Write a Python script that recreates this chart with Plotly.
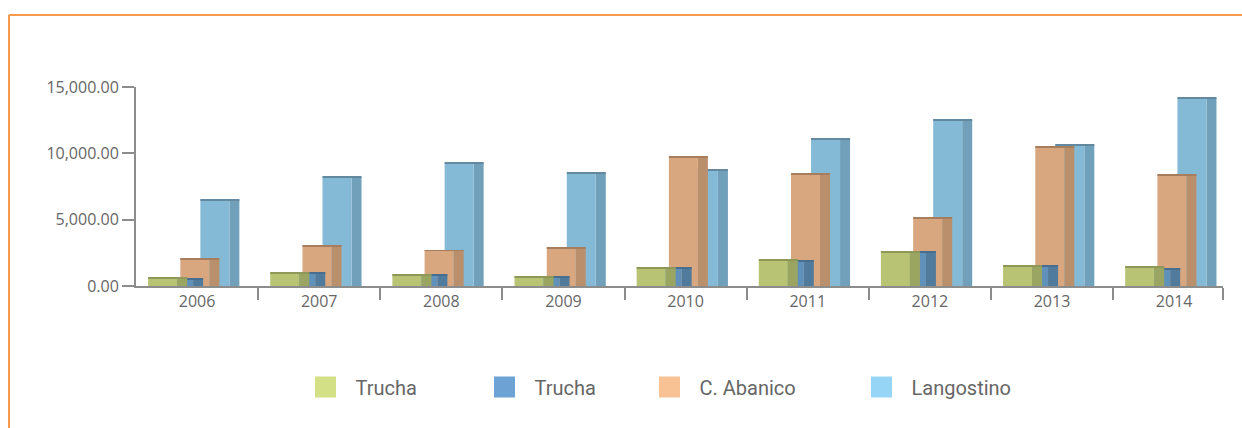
import plotly.graph_objects as go

# Production by year and species
years = ["2006", "2007", "2008", "2009", "2010", "2011", "2012", "2013", "2014"]
trucha_a = [660, 1040, 890, 740, 1420, 2000, 2630, 1570, 1500]
trucha_b = [590, 1020, 890, 740, 1420, 1930, 2630, 1570, 1350]
abanico = [2100, 3060, 2710, 2930, 9730, 8450, 5150, 10490, 8430]
langostino = [6540, 8220, 9280, 8520, 8750, 11090, 12530, 10640, 14190]

series_names = ["Trucha", "Trucha", "C. Abanico", "Langostino"]
series_values = [trucha_a, trucha_b, abanico, langostino]

# (front face, side face, top edge, legend swatch)
palette = [
    ("#B8C473", "#9BA562", "#8E9858", "#D4E085"),
    ("#5F91BB", "#517B9C", "#476E8E", "#6CA3D4"),
    ("#D9A77F", "#BA906C", "#A67E5E", "#F9C295"),
    ("#85BAD6", "#71A0BA", "#62899F", "#97D5F6"),
]

FRONT_W = 0.2375
SIDE_W = 0.082
offsets = [-0.401, -0.270, -0.137, 0.027]
EDGE = 70  # thickness of the top edge, in data units

xs = list(range(len(years)))
fig = go.Figure()

# draw the back series first so the front ones overlap them
for idx in reversed(range(len(series_values))):
    vals = series_values[idx]
    front, side, top, _ = palette[idx]
    off = offsets[idx]
    fig.add_trace(go.Bar(
        x=xs, y=vals, width=SIDE_W, offset=off + FRONT_W,
        marker=dict(color=side, line=dict(width=0)), showlegend=False,
        hoverinfo="skip"))
    fig.add_trace(go.Bar(
        x=xs, y=vals, width=FRONT_W, offset=off,
        marker=dict(color=front, line=dict(width=0)), showlegend=False,
        name=series_names[idx]))
    fig.add_trace(go.Bar(
        x=xs, y=[EDGE] * len(vals), base=[v - EDGE for v in vals],
        width=FRONT_W + SIDE_W, offset=off,
        marker=dict(color=top, line=dict(width=0)), showlegend=False,
        hoverinfo="skip"))

# legend swatches
legend_widths = [114, 100, 147, 100]
for idx, name in enumerate(series_names):
    fig.add_trace(go.Scatter(
        x=[None], y=[None], mode="markers", name=name,
        marker=dict(symbol="square", size=16, color=palette[idx][3],
                    line=dict(color=palette[idx][3], width=5)),
        legendwidth=legend_widths[idx], showlegend=True))

axis_color = "#8C8C8C"
frame_color = "#F79A4E"
tick_font = dict(family="Open Sans", size=16, color="#666666")

# plot area in pixels
L, R, T, B = 136, 19, 87, 142
W, H = 1242, 428
PW, PH = W - L - R, H - T - B

fig.update_layout(
    width=W, height=H,
    barmode="overlay",
    paper_bgcolor="white", plot_bgcolor="white",
    margin=dict(l=L, r=R, t=T, b=B),
    showlegend=True,
    legend=dict(
        orientation="h", xref="container", yref="container",
        x=295.5 / W, xanchor="left", y=1 - 387 / H, yanchor="middle",
        itemwidth=50, font=dict(family="Roboto", size=20, color="#666666"),
        bgcolor="rgba(0,0,0,0)", traceorder="normal",
    ),
    xaxis=dict(
        range=[-0.5, 8.4], tickmode="array", tickvals=xs, ticktext=years,
        ticks="", showgrid=False, zeroline=False,
        showline=True, linecolor=axis_color, linewidth=2,
        tickfont=tick_font,
        minor=dict(tickmode="array",
                   tickvals=[i + 0.5 for i in range(len(years) - 1)] + [8.399],
                   ticks="outside", ticklen=12, tickwidth=2, tickcolor=axis_color,
                   showgrid=False),
    ),
    yaxis=dict(
        range=[0, 15000], tickmode="array", tickvals=[0, 5000, 10000, 15000],
        tickformat=",.2f", ticks="outside", ticklen=12, tickwidth=2,
        tickcolor=axis_color, showline=True, linecolor=axis_color, linewidth=2,
        showgrid=False, zeroline=False, tickfont=tick_font,
    ),
)

# orange frame along the top and left edges of the page
frame_top = (H - 15 - B) / PH
frame_left = (9 - L) / PW
fig.add_shape(type="line", xref="paper", yref="paper",
              x0=frame_left, x1=(W - L) / PW, y0=frame_top, y1=frame_top,
              line=dict(color=frame_color, width=2))
fig.add_shape(type="line", xref="paper", yref="paper",
              x0=frame_left, x1=frame_left, y0=frame_top, y1=-B / PH,
              line=dict(color=frame_color, width=2))

fig.write_html("out.html")
